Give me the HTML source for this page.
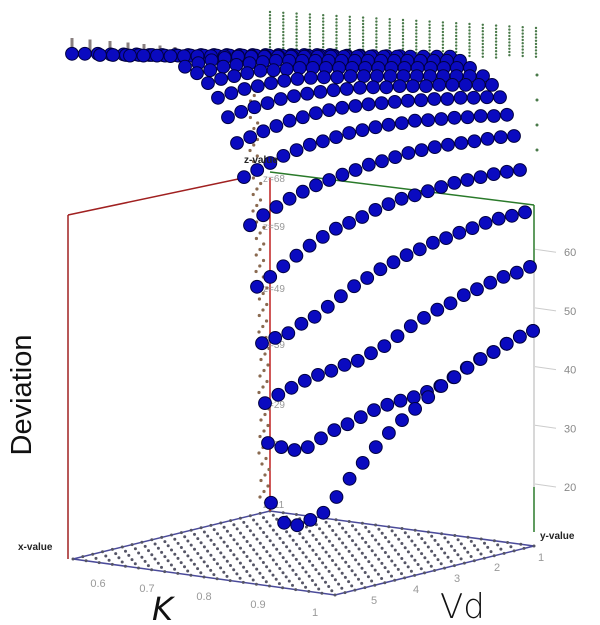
<!DOCTYPE html>
<html><head><meta charset="utf-8"><style>
html,body{margin:0;padding:0;background:#fff;}
svg{display:block;font-family:"Liberation Sans",sans-serif;}
</style></head><body>
<svg id="chart" width="600" height="625" viewBox="0 0 600 625" xmlns="http://www.w3.org/2000/svg">
  <g id="floor"></g>
  <g id="box">
    <line x1="68" y1="215" x2="68" y2="559" stroke="#a02020" stroke-width="1.5"/>
    <line x1="68" y1="215" x2="243" y2="178" stroke="#a02020" stroke-width="1.5"/>
    <line x1="270" y1="178" x2="270" y2="511" stroke="#c02020" stroke-width="1.5"/>
    <line x1="270" y1="172" x2="534" y2="205" stroke="#2a7a2a" stroke-width="1.5"/>
    <line x1="534" y1="205" x2="534" y2="262" stroke="#2a7a2a" stroke-width="1.5"/>
    <line x1="534" y1="262" x2="534" y2="487" stroke="#cccccc" stroke-width="1.5"/>
    <line x1="534" y1="487" x2="534" y2="532" stroke="#2a7a2a" stroke-width="1.5"/>
  </g>
  <g id="zaxis"></g>
  <g id="deco"></g>
  <g id="rows"></g>
  <g id="labels">
    <text x="244" y="163" font-size="10" font-weight="bold" fill="#222">z-value</text>
    <text x="18" y="550" font-size="10" font-weight="bold" fill="#222">x-value</text>
    <text x="540" y="539" font-size="10" font-weight="bold" fill="#222">y-value</text>
    <text x="152" y="620" font-size="32" font-style="italic" font-family="DejaVu Sans, Liberation Sans, sans-serif" font-weight="200" fill="#111">K</text>
    <text x="440" y="618" font-size="34" font-family="DejaVu Sans, Liberation Sans, sans-serif" font-weight="200" fill="#111">Vd</text>
    <text transform="translate(31,395) rotate(-90)" text-anchor="middle" font-size="29" fill="#111">Deviation</text>
  </g>
</svg>
<script>
const NS="http://www.w3.org/2000/svg";
// ---- data ----
const kValues=[0.50,0.525,0.55,0.575,0.60,0.625,0.65,0.675,0.70,0.725,0.75,0.775,0.80,0.825,0.85,0.875,0.90,0.925,0.95,0.975,1.00];
const zTicks=[20,30,40,50,60];
const xTicks=["0.6","0.7","0.8","0.9","1"];
const yTicks=["1","2","3","4","5"];
const zMarkers=["z=68","z=59","z=49","z=39","z=29","z=22","z=11"];
const zMarkerValues=[72.8,64.6,54.1,44.5,34.3,27.5,17.3];
// rows from back (top) to front (bottom)
const rowFlat1=[93.8,93.8,93.8,93.7,93.7,93.7,93.6,93.6,93.6,93.6,93.6,93.6,93.6,93.6,93.6,93.6,93.6,93.6,93.6,93.6,93.6];
const rowFlat2=[93.6,93.6,93.6,93.6,93.6,93.5,93.5,93.5,93.5,93.5,93.5,93.5,93.5,93.5,93.5,93.5,93.5,93.5,93.5,93.5,93.5];
const rowFlat3=[93.5,93.5,93.5,93.4,93.4,93.4,93.4,93.4,93.4,93.4,93.4,93.4,93.4,93.4,93.4,93.4,93.4,93.4,93.4,93.4,93.4];
const row9=[91.6,92.2,92.7,93.1,93.3,93.3,93.3,93.3,93.3,93.3,93.3,93.3,93.3,93.3,93.3,93.3,93.3,93.3,93.3,93.3,93.3];
const row8=[90.5,91.0,91.6,91.9,92.2,92.4,92.6,92.6,92.6,92.6,92.6,92.6,92.6,92.6,92.6,92.6,92.6,92.6,92.6,92.6,92.6];
const row7=[88.8,89.5,90.0,90.5,90.9,91.0,91.2,91.4,91.4,91.4,91.4,91.4,91.4,91.4,91.4,91.4,91.4,91.4,91.4,91.4,91.4];
const row6=[86.3,87.1,87.8,88.3,88.8,89.2,89.5,89.7,89.8,89.8,90.0,90.0,90.0,90.0,90.0,90.0,90.0,90.0,90.0,90.0,90.0];
const row5=[83.0,83.9,84.7,85.4,86.1,86.6,87.0,87.3,87.6,87.8,88.0,88.1,88.1,88.3,88.3,88.3,88.5,88.5,88.5,88.5,88.5];
const row4=[78.6,79.6,80.6,81.5,82.4,83.0,83.7,84.2,84.6,84.9,85.2,85.4,85.6,85.8,85.9,86.1,86.1,86.3,86.3,86.4,86.4];
const rowZ68=[72.8,74.0,75.2,76.4,77.4,78.3,78.9,79.6,80.3,80.8,81.3,81.7,82.0,82.4,82.5,82.7,82.9,83.0,83.2,83.2,83.4];
const rowZ59=[64.6,66.3,67.7,69.1,70.3,71.4,72.3,73.2,74.0,74.9,75.5,76.2,76.9,77.4,77.9,78.3,78.6,78.9,79.3,79.6,79.8];
const rowZ49=[54.1,55.8,57.6,59.4,61.1,62.6,64.0,65.0,66.0,67.2,68.2,69.1,69.7,70.4,71.1,71.8,72.3,72.8,73.3,73.7,74.0];
const rowZ39=[44.5,45.4,46.2,47.8,49.0,50.7,52.5,54.2,55.6,57.1,58.3,59.5,60.5,61.6,62.4,63.3,64.1,65.0,65.7,66.2,66.8];
const rowZ29=[34.3,35.7,36.9,38.1,39.1,39.8,40.8,41.5,42.8,44.0,45.7,47.4,48.8,50.2,51.3,52.7,53.7,54.8,55.8,56.5,57.5];
const rowZ22=[27.5,26.8,26.3,26.8,28.3,29.7,30.7,31.9,33.1,34.0,34.7,35.3,36.2,37.2,38.7,40.3,41.8,43.0,44.4,45.6,46.6];
const rowZ11=[17.3,13.9,13.5,14.4,15.6,18.3,21.4,24.1,26.8,29.2,31.4,33.3,35.3,37.2,38.7,40.3,41.8,43.0,44.4,45.6,46.6];
const rows=[rowFlat1,rowFlat2,rowFlat3,row9,row8,row7,row6,row5,row4,rowZ68,rowZ59,rowZ49,rowZ39,rowZ29,rowZ22,rowZ11];
// projection layout (screen geometry of each depth slice)
const rowStartX=[72,100,130,185,197,208,218,228,237,244,250,257,262,265,268,271];
const rowEndX=[330,360,400,450,460,470,483,492,500,507,514,520,525,530,533,533];
// ---- axis functions ----
function zY(v){return 487-(v-20)*5.87;}
function kX(k,r){const t=(k-kValues[0])/(kValues[kValues.length-1]-kValues[0]);return rowStartX[r]+t*(rowEndX[r]-rowStartX[r]);}
function mk(tag,attrs,parent){const e=document.createElementNS(NS,tag);for(const a in attrs)e.setAttribute(a,attrs[a]);parent.appendChild(e);return e;}

// floor grid
const floor=document.getElementById('floor');
const L=[73,559],B=[270,511],R=[534,546],F=[335,595];
mk('polygon',{points:`${L} ${B} ${R} ${F}`,fill:'none',stroke:'#4a4a9a','stroke-width':1.5},floor);
for(let i=0;i<=20;i++){for(let j=0;j<=20;j++){
  const u=i/20,w=j/20;
  const x=L[0]+(B[0]-L[0])*w+(F[0]-L[0])*u+((R[0]-B[0])-(F[0]-L[0]))*u*w;
  const y=L[1]+(B[1]-L[1])*w+(F[1]-L[1])*u+((R[1]-B[1])-(F[1]-L[1]))*u*w;
  const d=mk('circle',{cx:x.toFixed(1),cy:y.toFixed(1),r:1.5,fill:'#555566'},floor);
  
  
}}
// floor ticks
const xtp=[[98,587],[147,592],[204,600],[258,608],[315,616]];
xTicks.forEach((t,i)=>{const e=mk('text',{x:xtp[i][0],y:xtp[i][1],'font-size':11,fill:'#999','text-anchor':'middle'},floor);e.textContent=t;
  });
const ytp=[[541,561],[497,571],[457,582],[416,593],[374,604]];
yTicks.forEach((t,i)=>{const e=mk('text',{x:ytp[i][0],y:ytp[i][1],'font-size':11,fill:'#999','text-anchor':'middle'},floor);e.textContent=t;
  });

// z axis ticks
const zax=document.getElementById('zaxis');
zTicks.forEach(v=>{const y=zY(v);
  mk('line',{x1:535,y1:y-3,x2:556,y2:y,stroke:'#ccc','stroke-width':1},zax);
  const e=mk('text',{x:564,y:y+4,'font-size':11,fill:'#888'},zax);e.textContent=v;
  });
zMarkers.forEach((t,i)=>{const e=mk('text',{x:263,y:zY(zMarkerValues[i])+5,'font-size':10,fill:'#999'},zax);e.textContent=t;
  });

// decorative projections
const deco=document.getElementById('deco');
[72,90,110,128,144,160,175,190,205,220].forEach((x,i)=>{mk('line',{x1:x,y1:38+i*1.5,x2:x,y2:55,stroke:'#8a8080','stroke-width':3},deco);});
for(let c=0;c<21;c++){const x=270+c*13.3;const top=12+c*0.8;
  for(let y=top;y<58;y+=3.2)mk('circle',{cx:x,cy:y,r:1.2,fill:'#4a7a4a'},deco);}
for(let y=75;y<175;y+=25)mk('circle',{cx:537,cy:y,r:1.5,fill:'#4a7a4a'},deco);
for(let y=90,n=0;y<508;y+=5.5,n++){const x=247+((n*7)%11)+Math.min(12,(y-90)/20);mk('circle',{cx:x,cy:y,r:1.6,fill:'#8a6a50'},deco);}

// series points
const g=document.getElementById('rows');
rows.forEach((vals,r)=>{
  vals.forEach((v,i)=>{
    const c=mk('circle',{cx:kX(kValues[i],r).toFixed(1),cy:zY(v).toFixed(1),r:6.4,fill:'#0a0ac0',stroke:'#000040','stroke-width':1},g);
    
    
  });
});
</script>
</body></html>
